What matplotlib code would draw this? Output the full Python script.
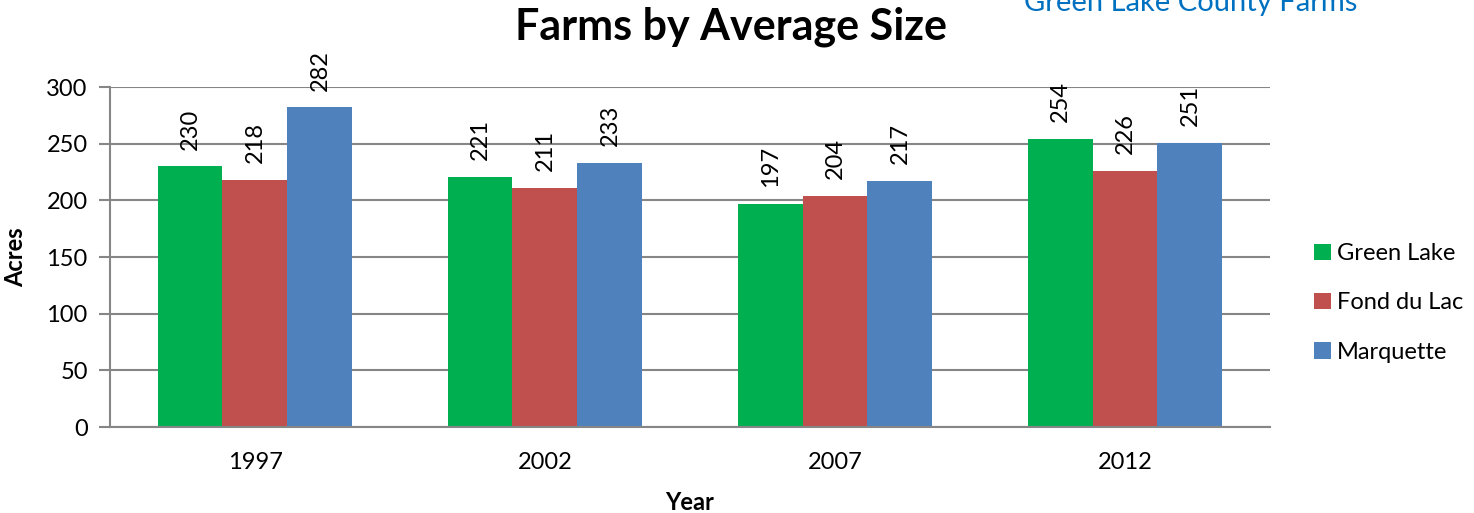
import numpy as np
import matplotlib.pyplot as plt

plt.rcParams['font.family'] = ['Lato', 'DejaVu Sans']

years = ['1997', '2002', '2007', '2012']
series = ['Green Lake', 'Fond du Lac', 'Marquette']
green_lake = [230, 221, 197, 254]
fond_du_lac = [218, 211, 204, 226]
marquette = [282, 233, 217, 251]
colors = ['#00B050', '#C0504D', '#4F81BD']

fig = plt.figure(figsize=(14.74, 5.13), dpi=100)
ax = fig.add_axes([0.0746, 0.1676, 0.787, 0.6628])

x = np.arange(len(years))
w = 0.224
for i, (name, vals) in enumerate(zip(series, [green_lake, fond_du_lac, marquette])):
    pos = x + (i - 1) * w
    ax.bar(pos, vals, width=w, color=colors[i], label=name, zorder=2)
    for px, v in zip(pos, vals):
        ax.annotate(str(v), (px, v), xytext=(0, 12), textcoords='offset points',
                    rotation=90, ha='center', va='bottom', fontsize=17)

ax.set_xlim(-0.5, 3.5)
ax.set_ylim(0, 300)
ax.set_yticks(range(0, 301, 50))
ax.set_xticks(x)
ax.set_xticklabels(years)
ax.tick_params(axis='both', labelsize=17, color='#868686')
ax.tick_params(axis='x', length=0, pad=18)
ax.tick_params(axis='y', length=8, width=1.5, pad=8)
ax.grid(axis='y', color='#868686', linewidth=1.5, zorder=0)
for s in ['top', 'right']:
    ax.spines[s].set_visible(False)
for s in ['left', 'bottom']:
    ax.spines[s].set_color('#868686')
    ax.spines[s].set_linewidth(1.5)

ax.set_ylabel('Acres', fontsize=17, fontweight='bold', labelpad=14)
ax.set_xlabel('Year', fontsize=17, fontweight='bold', labelpad=13)
fig.text(0.496, 0.947, 'Farms by Average Size', ha='center', va='center',
         fontsize=31, fontweight='bold')
fig.text(0.8075, 0.995, 'Green Lake County Farms', ha='center', va='center',
         fontsize=21, color='#0070C0')

ax.legend(loc='center left', bbox_to_anchor=(1.02, 0.365), frameon=False,
          fontsize=17, handlelength=0.7, handleheight=0.7, labelspacing=1.2,
          handletextpad=0.25)

fig.savefig('out.png', dpi=100)
